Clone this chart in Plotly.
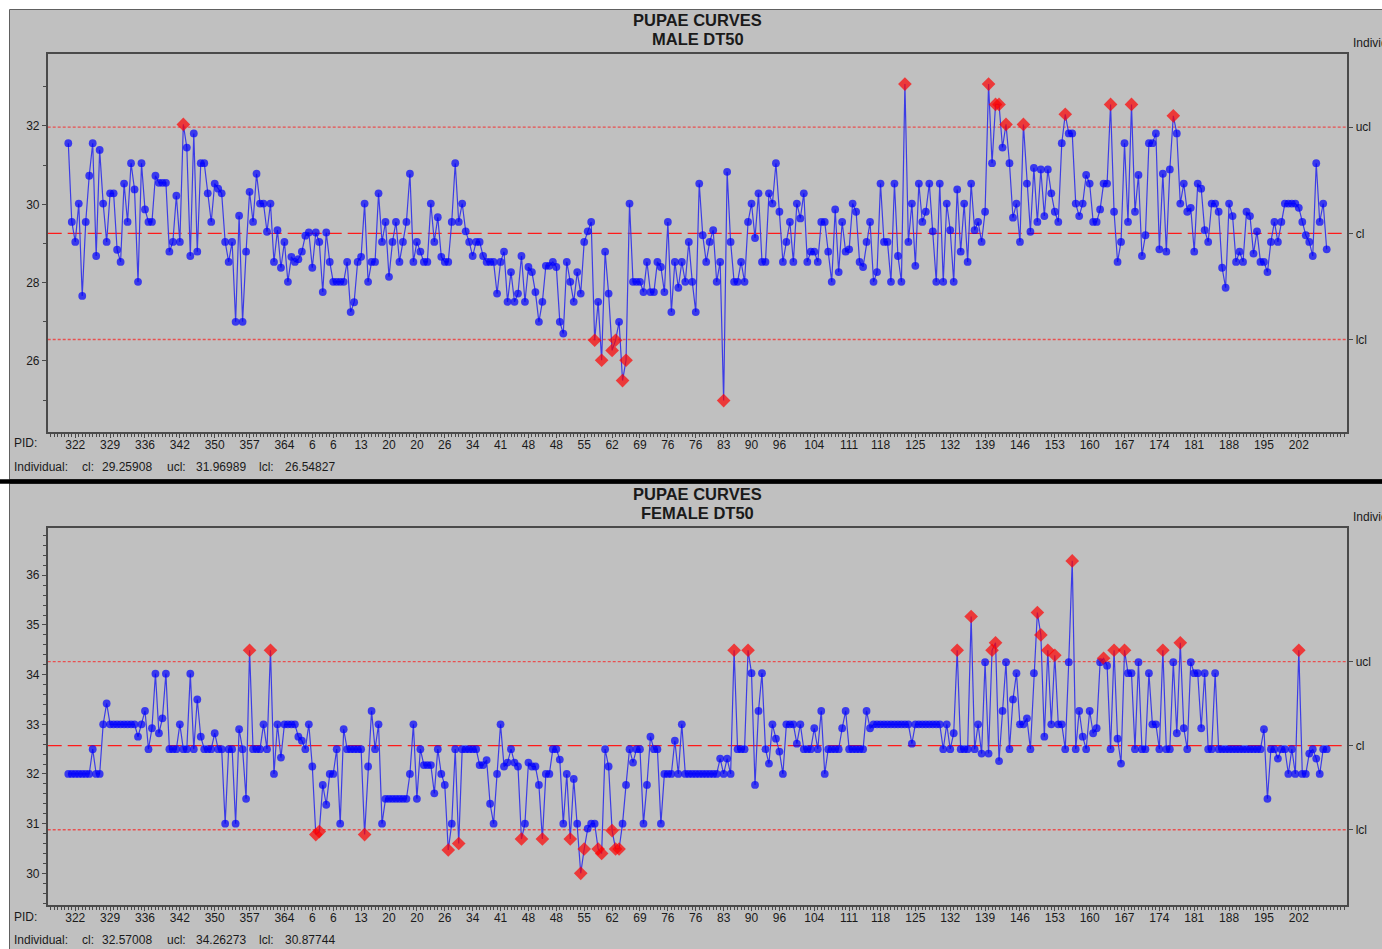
import plotly.graph_objects as go

# ---------------- data ----------------
male_dt50 = [
    31.56, 29.55, 29.04, 30.02, 27.66, 29.55, 30.73, 31.56, 28.68, 31.39,
    30.02, 29.04, 30.28, 30.28, 28.84, 28.53, 30.53, 29.55, 31.05, 30.38,
    28.02, 31.05, 29.87, 29.55, 29.55, 30.73, 30.55, 30.55, 30.55, 28.79,
    29.04, 30.22, 29.04, 32.04, 31.45, 28.68, 31.81, 28.79, 31.05, 31.05,
    30.28, 29.55, 30.53, 30.40, 30.28, 29.04, 28.53, 29.04, 27.00, 29.71,
    27.00, 28.79, 30.32, 29.55, 30.78, 30.02, 30.02, 29.30, 30.02, 28.53,
    29.34, 28.38, 29.04, 28.02, 28.66, 28.53, 28.60, 28.79, 29.20, 29.28,
    28.38, 29.28, 29.04, 27.76, 29.28, 28.53, 28.02, 28.02, 28.02, 28.02,
    28.53, 27.25, 27.50, 28.53, 28.66, 30.02, 28.02, 28.53, 28.53, 30.28,
    29.04, 29.55, 28.15, 29.04, 29.55, 28.53, 29.04, 29.55, 30.78, 28.53,
    29.04, 28.79, 28.53, 28.53, 30.02, 29.04, 29.67, 28.66, 28.53, 28.53,
    29.55, 31.05, 29.55, 30.02, 29.31, 29.04, 28.68, 29.04, 29.04, 28.68,
    28.53, 28.53, 28.53, 27.72, 28.53, 28.79, 27.51, 28.27, 27.51, 27.72,
    28.68, 27.51, 28.40, 28.27, 27.76, 27.00, 27.51, 28.43, 28.43, 28.53,
    28.40, 27.00, 26.70, 28.53, 28.02, 27.51, 28.27, 27.72, 29.04, 29.31,
    29.55, 26.53, 27.51, 26.02, 28.79, 27.72, 26.27, 26.53, 27.00, 25.50,
    26.02, 30.02, 28.02, 28.02, 28.02, 27.76, 28.53, 27.76, 27.76, 28.53,
    28.40, 27.76, 29.55, 27.25, 28.53, 27.87, 28.53, 28.02, 29.04, 28.02,
    27.25, 30.53, 29.21, 28.53, 29.04, 29.34, 28.02, 28.53, 24.99, 30.83,
    29.04, 28.02, 28.02, 28.53, 28.02, 29.55, 30.02, 29.14, 30.28, 28.53,
    28.53, 30.28, 30.02, 31.05, 29.81, 28.53, 29.04, 29.55, 28.53, 30.02,
    29.64, 30.28, 28.53, 28.79, 28.79, 28.53, 29.55, 29.55, 28.79, 28.02,
    29.87, 28.27, 29.55, 28.79, 28.85, 30.02, 29.81, 28.53, 28.40, 29.04,
    29.55, 28.02, 28.27, 30.53, 29.04, 29.04, 28.02, 30.53, 28.68, 28.02,
    33.07, 29.04, 30.02, 28.43, 30.53, 29.55, 29.81, 30.53, 29.31, 28.02,
    30.53, 28.02, 30.02, 29.34, 28.02, 30.38, 28.79, 30.02, 28.53, 30.53,
    29.34, 29.55, 29.04, 29.81, 33.07, 31.05, 32.55, 32.55, 31.45, 32.04,
    31.05, 29.66, 30.02, 29.04, 32.04, 30.53, 29.30, 30.93, 29.55, 30.89,
    29.70, 30.89, 30.28, 29.81, 29.55, 31.56, 32.30, 31.81, 31.81, 30.02,
    29.70, 30.02, 30.75, 30.53, 29.55, 29.55, 29.87, 30.53, 30.53, 32.55,
    29.81, 28.53, 29.04, 31.56, 29.55, 32.55, 29.81, 30.75, 28.68, 29.21,
    31.56, 31.56, 31.81, 28.85, 30.78, 28.79, 30.89, 32.26, 31.81, 30.02,
    30.53, 29.81, 29.91, 28.79, 30.53, 30.40, 29.34, 29.04, 30.02, 30.02,
    29.81, 28.38, 27.87, 30.02, 29.70, 28.53, 28.79, 28.53, 29.81, 29.70,
    28.74, 29.31, 28.53, 28.53, 28.27, 29.04, 29.55, 29.04, 29.55, 30.02,
    30.02, 30.02, 30.02, 29.91, 29.55, 29.21, 29.04, 28.68, 31.05, 29.55,
    30.02, 28.85,
]

female_dt50 = [
    32.0, 32.0, 32.0, 32.0, 32.0, 32.0, 32.0, 32.5, 32.0, 32.0,
    33.0, 33.42, 33.0, 33.0, 33.0, 33.0, 33.0, 33.0, 33.0, 33.0,
    32.75, 33.0, 33.27, 32.5, 32.92, 34.02, 32.82, 33.12, 34.02, 32.5,
    32.5, 32.5, 33.0, 32.5, 32.5, 34.02, 32.5, 33.5, 32.75, 32.5,
    32.5, 32.5, 32.82, 32.5, 32.5, 31.0, 32.5, 32.5, 31.0, 32.9,
    32.5, 31.5, 34.49, 32.5, 32.5, 32.5, 33.0, 32.5, 34.49, 32.0,
    33.0, 32.33, 33.0, 33.0, 33.0, 33.0, 32.75, 32.67, 32.5, 33.0,
    32.15, 30.78, 30.84, 31.78, 31.38, 32.0, 32.0, 32.5, 31.0, 32.9,
    32.5, 32.5, 32.5, 32.5, 32.5, 30.78, 32.15, 33.27, 32.5, 33.0,
    31.0, 31.5, 31.5, 31.5, 31.5, 31.5, 31.5, 31.5, 32.0, 33.0,
    31.5, 32.5, 32.18, 32.18, 32.18, 31.61, 32.5, 32.0, 31.78, 30.47,
    31.0, 32.5, 30.6, 32.5, 32.5, 32.5, 32.5, 32.5, 32.18, 32.18,
    32.28, 31.4, 31.0, 32.0, 33.0, 32.15, 32.23, 32.5, 32.23, 32.15,
    30.69, 31.0, 32.23, 32.15, 32.15, 31.78, 30.69, 32.0, 32.0, 32.5,
    32.5, 32.29, 31.0, 32.0, 30.69, 31.9, 31.0, 30.0, 30.49, 30.9,
    31.0, 31.0, 30.49, 30.4, 32.5, 32.15, 30.86, 30.49, 30.49, 31.0,
    31.78, 32.5, 32.23, 32.5, 32.5, 31.0, 31.78, 32.75, 32.5, 32.5,
    31.0, 32.0, 32.0, 32.0, 32.67, 32.0, 33.0, 32.0, 32.0, 32.0,
    32.0, 32.0, 32.0, 32.0, 32.0, 32.0, 32.0, 32.31, 32.0, 32.31,
    32.0, 34.49, 32.5, 32.5, 32.5, 34.49, 34.03, 31.78, 33.27, 34.03,
    32.5, 32.21, 33.0, 32.71, 32.45, 32.0, 33.0, 33.0, 33.0, 32.61,
    33.0, 32.5, 32.5, 32.5, 32.92, 32.5, 33.27, 32.0, 32.5, 32.5,
    32.5, 32.5, 32.92, 33.27, 32.5, 32.5, 32.5, 32.5, 32.5, 33.27,
    32.92, 33.0, 33.0, 33.0, 33.0, 33.0, 33.0, 33.0, 33.0, 33.0,
    33.0, 33.0, 32.61, 33.0, 33.0, 33.0, 33.0, 33.0, 33.0, 33.0,
    33.0, 32.5, 33.0, 32.5, 32.82, 34.49, 32.5, 32.5, 32.5, 35.17,
    32.5, 33.0, 32.41, 34.25, 32.41, 34.49, 34.64, 32.26, 33.27, 34.25,
    32.5, 33.5, 34.03, 33.0, 33.0, 33.12, 32.5, 34.03, 35.25, 34.8,
    32.75, 34.49, 33.0, 34.39, 33.0, 33.0, 32.5, 34.25, 36.29, 32.5,
    33.27, 32.75, 32.5, 33.27, 32.82, 32.92, 34.25, 34.33, 34.18, 32.5,
    34.49, 32.71, 32.21, 34.49, 34.03, 34.03, 32.5, 34.25, 32.5, 32.5,
    34.03, 33.0, 33.0, 32.5, 34.49, 32.5, 32.5, 34.25, 32.82, 34.64,
    32.92, 32.5, 34.25, 34.03, 34.03, 32.92, 34.03, 32.5, 32.5, 34.03,
    32.5, 32.5, 32.5, 32.5, 32.5, 32.5, 32.5, 32.5, 32.5, 32.5,
    32.5, 32.5, 32.5, 32.9, 31.5, 32.5, 32.5, 32.31, 32.5, 32.5,
    32.0, 32.5, 32.0, 34.49, 32.0, 32.0, 32.41, 32.5, 32.31, 32.0,
    32.5, 32.5,
]

# PID labels shown on the x axis and the sample index carrying each label
pid_labels = ["322", "329", "336", "342", "350", "357", "364", "6", "6", "13",
              "20", "20", "26", "34", "41", "48", "48", "55", "62", "69",
              "76", "76", "83", "90", "96", "104", "111", "118", "125", "132",
              "139", "146", "153", "160", "167", "174", "181", "188", "195", "202"]
pid_label_index = [2, 12, 22, 32, 42, 52, 62, 70, 76, 84,
                   92, 100, 108, 116, 124, 132, 140, 148, 156, 164,
                   172, 180, 188, 196, 204, 214, 224, 233, 243, 253,
                   263, 273, 283, 293, 303, 313, 323, 333, 343, 353]

male_limits = {"cl": 29.25908, "ucl": 31.96989, "lcl": 26.54827}
female_limits = {"cl": 32.57008, "ucl": 34.26273, "lcl": 30.87744}

# ---------------- geometry helpers ----------------
W, H = 1382, 949
def px(x):
    return x / W
def py(y):
    return 1 - y / H

FONT = "Liberation Sans, Arial, sans-serif"
TXT = "#1a1a1a"
GRAY = "#C0C0C0"
FRAME = "#4a4a4a"

n = len(male_dt50)
xs = list(range(n))
xrange_ = [-5.91, n - 1 + 5.91]

fig = go.Figure()

def add_panel(values, lim, xa, ya, ya_r):
    out = [(v > lim["ucl"] or v < lim["lcl"]) for v in values]
    colors = ["#FF0000" if o else "#0000FF" for o in out]
    symbols = ["diamond" if o else "circle" for o in out]
    sizes = [10.5 if o else 7.8 for o in out]
    fig.add_trace(go.Scatter(
        x=xs, y=values, mode="lines+markers",
        line=dict(color="#3c3ce6", width=1.2),
        marker=dict(color=colors, symbol=symbols, size=sizes, line=dict(width=0)),
        xaxis=xa, yaxis=ya, showlegend=False, hoverinfo="skip"))
    # empty trace so the right-hand control-limit axis exists
    fig.add_trace(go.Scatter(x=[None], y=[None], xaxis=xa, yaxis=ya_r,
                             showlegend=False, hoverinfo="skip"))

add_panel(male_dt50, male_limits, "x", "y", "y3")
add_panel(female_dt50, female_limits, "x2", "y2", "y4")

xdom = [px(47.7), px(1347.3)]
top_dom = [py(432), py(54)]
bot_dom = [py(905), py(527.7)]
top_range = [24.187, 33.838]
bot_range = [29.362, 36.958]

def xaxis_cfg(anchor):
    return dict(domain=xdom, range=xrange_, anchor=anchor,
                tickmode="array", tickvals=pid_label_index, ticktext=pid_labels,
                ticks="outside", ticklen=4, tickcolor=FRAME, tickwidth=1,
                ticklabelstandoff=-3,
                minor=dict(ticks="outside", ticklen=3, tick0=0, dtick=1,
                           tickcolor=FRAME, tickwidth=1, showgrid=False),
                showline=True, mirror=True, linecolor=FRAME, linewidth=1.5,
                showgrid=False, zeroline=False,
                tickfont=dict(family=FONT, size=12, color=TXT))

def yaxis_cfg(anchor, dom, rng, dtick, mdtick):
    return dict(domain=dom, range=rng, anchor=anchor,
                tickmode="linear", tick0=0, dtick=dtick,
                ticks="outside", ticklen=4, tickcolor=FRAME,
                minor=dict(ticks="outside", ticklen=3, tick0=0, dtick=mdtick,
                           tickcolor=FRAME, showgrid=False),
                showline=True, mirror=True, linecolor=FRAME, linewidth=1.5,
                showgrid=False, zeroline=False,
                tickfont=dict(family=FONT, size=12, color=TXT))

def right_cfg(overlay, rng, lim):
    return dict(overlaying=overlay, side="right", range=rng, anchor="free",
                position=xdom[1],
                tickmode="array",
                tickvals=[lim["ucl"], lim["cl"], lim["lcl"]],
                ticktext=["ucl", "cl", "lcl"],
                ticks="outside", ticklen=5, tickcolor=FRAME,
                showline=False, showgrid=False, zeroline=False,
                tickfont=dict(family=FONT, size=12, color=TXT))

shapes = []
# panel backgrounds
shapes.append(dict(type="rect", xref="paper", yref="paper", layer="below",
                   x0=px(9.5), x1=px(1400), y0=py(479.5), y1=py(9.5),
                   fillcolor=GRAY, line=dict(color="#606060", width=1)))
shapes.append(dict(type="rect", xref="paper", yref="paper", layer="below",
                   x0=px(9.5), x1=px(1400), y0=py(960), y1=py(483.5),
                   fillcolor=GRAY, line=dict(color="#606060", width=1)))
shapes.append(dict(type="rect", xref="paper", yref="paper", layer="below",
                   x0=px(0), x1=px(1400), y0=py(483.8), y1=py(479.2),
                   fillcolor="#000000", line=dict(width=0)))

def control_lines(lim, xr, yr):
    out = []
    out.append(dict(type="line", xref=xr + " domain", yref=yr, layer="below",
                    x0=0, x1=1, y0=lim["cl"], y1=lim["cl"],
                    line=dict(color="#FF1a1a", width=1.3, dash="14px,6px")))
    for k in ("ucl", "lcl"):
        out.append(dict(type="line", xref=xr + " domain", yref=yr, layer="below",
                        x0=0, x1=1, y0=lim[k], y1=lim[k],
                        line=dict(color="#E85050", width=1.3, dash="3px,2px")))
    return out

shapes += control_lines(male_limits, "x", "y")
shapes += control_lines(female_limits, "x2", "y2")

annotations = []
def txt(x, y, s, size=12, anchor="left", bold=False):
    annotations.append(dict(xref="paper", yref="paper", x=px(x), y=py(y),
                            text=("<b>%s</b>" % s) if bold else s,
                            showarrow=False, xanchor=anchor, yanchor="middle",
                            font=dict(family=FONT, size=size, color=TXT)))

def panel_text(y_off, title2, lim):
    txt(697.5, 20 + y_off, "PUPAE CURVES", size=16.5, anchor="center", bold=True)
    txt(697.5, 39 + y_off, title2, size=16.5, anchor="center", bold=True)
    txt(1351, 43 + y_off, "Individual")
    txt(12, 443 + y_off, "PID:")
    ly = 466.5 + y_off
    txt(12, ly, "Individual:")
    txt(80, ly, "cl:")
    txt(100, ly, "%.5f" % lim["cl"])
    txt(165, ly, "ucl:")
    txt(194, ly, "%.5f" % lim["ucl"])
    txt(257, ly, "lcl:")
    txt(283, ly, "%.5f" % lim["lcl"])

panel_text(0, "MALE DT50", male_limits)
panel_text(473.5, "FEMALE DT50", female_limits)

fig.update_layout(
    width=W, height=H, autosize=False,
    margin=dict(l=0, r=0, t=0, b=0),
    paper_bgcolor="#FFFFFF", plot_bgcolor="rgba(0,0,0,0)",
    showlegend=False,
    xaxis=xaxis_cfg("y"), xaxis2=xaxis_cfg("y2"),
    yaxis=yaxis_cfg("x", top_dom, top_range, 2, 1),
    yaxis2=yaxis_cfg("x2", bot_dom, bot_range, 1, 0.2),
    yaxis3=right_cfg("y", top_range, male_limits),
    yaxis4=right_cfg("y2", bot_range, female_limits),
    shapes=shapes, annotations=annotations,
)

fig.write_html("out.html", config={"displayModeBar": False},
               post_script="document.body.style.margin='0';document.body.style.overflow='hidden';")
